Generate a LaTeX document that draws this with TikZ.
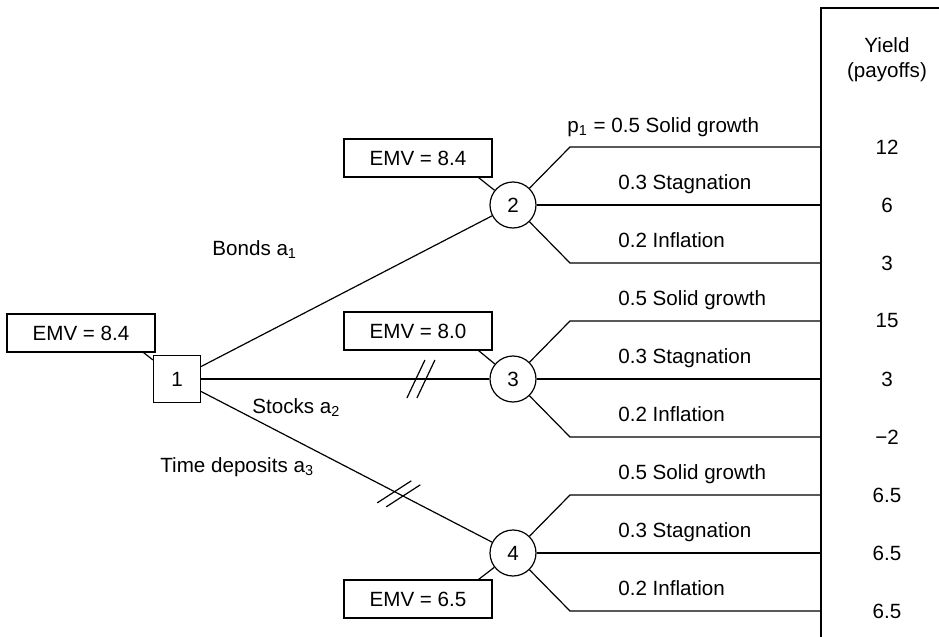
\documentclass[tikz,border=0pt]{standalone}
\usepackage{fontspec}
\setmainfont{Liberation Sans}
\usepackage{tikz}
\usetikzlibrary{positioning,calc}
\tikzset{
  treefont/.style={font=\fontsize{10.3}{12.4}\selectfont},
  emvbox/.style={
    rectangle, draw, line width=0.6pt, treefont,
    minimum width=74pt, minimum height=19pt, inner sep=2pt
  },
  actbox/.style={
    rectangle, draw, line width=0.6pt, treefont,
    minimum size=23.5pt, inner sep=0pt
  },
  chance/.style={
    circle, draw, line width=0.6pt, treefont,
    minimum size=23pt, inner sep=0pt
  },
  branch/.style={line width=0.6pt},
  problabel/.style={treefont, anchor=base west, inner sep=0pt},
  yieldlabel/.style={treefont, inner sep=0pt},
}

\begin{document}
\begin{tikzpicture}[x=0.5pt, y=-0.5pt]
  \useasboundingbox (0,0) rectangle (939,637);

  % decision and chance nodes
  \node[actbox] (n1) at (177,379) {1};
  \node[chance] (n2) at (513,205) {2};
  \node[chance] (n3) at (513,379) {3};
  \node[chance] (n4) at (513,553) {4};

  \node[emvbox] (emv1) at (81,333) {EMV = 8.4};
  \node[emvbox] (emv2) at (418,158) {EMV = 8.4};
  \node[emvbox] (emv3) at (418,331) {EMV = 8.0};
  \node[emvbox] (emv4) at (418,599) {EMV = 6.5};

  \draw[branch] ([xshift=-6pt]emv1.south east) -- (n1);
  \draw[branch] ([xshift=-7pt]emv2.south east) -- (n2);
  \draw[branch] ([xshift=-7pt]emv3.south east) -- (n3);
  \draw[branch] ([xshift=-7pt]emv4.north east) -- (n4);

  % actions
  \draw[branch] (n1) -- (n2);
  \draw[branch] (n1) -- (n3);
  \draw[branch] (n1) -- (n4);
  \coordinate (cut13) at ($(n1)!0.726!(n3)$);
  \coordinate (cut14) at ($(n1)!0.66!(n4)$);

  \draw[branch] ($(cut13)+(-14,19)$) -- ++(18,-38);
  \draw[branch] ($(cut13)+(-4,19)$) -- ++(18,-38);
  \draw[branch] ($(cut14)+(-21.5,9)$) -- ++(34,-22);
  \draw[branch] ($(cut14)+(-12.5,13)$) -- ++(34,-22);

  \node[problabel] (bonds) at (212,255) {Bonds a\textsubscript{1}};
  \node[problabel] (stocks) at (252,413) {Stocks a\textsubscript{2}};
  \node[problabel] (deposits) at (160,472) {Time deposits a\textsubscript{3}};

  % payoff frame
  \coordinate (fbot) at (821,637);
  \coordinate (ftop) at (821,8);
  \coordinate (fright) at (939,8);
  \draw[branch] (fbot) -- (ftop) -- (fright);

  \node[yieldlabel, anchor=base] (yield) at (887,53) {Yield};
  \node[yieldlabel, anchor=base] (payoffs) at (887,77) {(payoffs)};

  % states after node 2
  \coordinate (k21) at (570,147);
  \coordinate (y21) at (821,147);
  \coordinate (y22) at (821,205);
  \coordinate (k23) at (570,263);
  \coordinate (y23) at (821,263);
  \draw[branch] (n2) -- (k21) -- (y21);
  \draw[branch] (n2) -- (y22);
  \draw[branch] (n2) -- (k23) -- (y23);
  \node[problabel] at (567,132) {p\textsubscript{1} = 0.5 Solid growth};
  \node[problabel] at (618,189) {0.3 Stagnation};
  \node[problabel] at (618,247) {0.2 Inflation};

  % states after node 3
  \coordinate (k31) at (570,321);
  \coordinate (y31) at (821,321);
  \coordinate (y32) at (821,379);
  \coordinate (k33) at (570,437);
  \coordinate (y33) at (821,437);
  \draw[branch] (n3) -- (k31) -- (y31);
  \draw[branch] (n3) -- (y32);
  \draw[branch] (n3) -- (k33) -- (y33);
  \node[problabel] at (618,305) {0.5 Solid growth};
  \node[problabel] at (618,363) {0.3 Stagnation};
  \node[problabel] at (618,421) {0.2 Inflation};

  % states after node 4
  \coordinate (k41) at (570,495);
  \coordinate (y41) at (821,495);
  \coordinate (y42) at (821,553);
  \coordinate (k43) at (570,611);
  \coordinate (y43) at (821,611);
  \draw[branch] (n4) -- (k41) -- (y41);
  \draw[branch] (n4) -- (y42);
  \draw[branch] (n4) -- (k43) -- (y43);
  \node[problabel] at (618,479) {0.5 Solid growth};
  \node[problabel] at (618,537) {0.3 Stagnation};
  \node[problabel] at (618,595) {0.2 Inflation};

  % payoffs
  \node[yieldlabel] (p21) at (887,147) {12};
  \node[yieldlabel] (p22) at (887,205) {6};
  \node[yieldlabel] (p23) at (887,263) {3};
  \node[yieldlabel] (p31) at (887,321) {15};
  \node[yieldlabel] (p32) at (887,379) {3};
  \node[yieldlabel] (p33) at (887,437) {−2};
  \node[yieldlabel] (p41) at (887,495) {6.5};
  \node[yieldlabel] (p42) at (887,553) {6.5};
  \node[yieldlabel] (p43) at (887,611) {6.5};
\end{tikzpicture}
\end{document}
